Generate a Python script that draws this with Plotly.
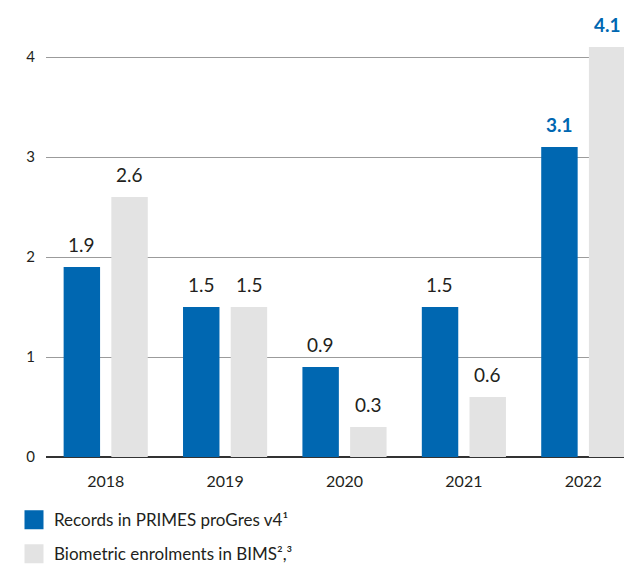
import plotly.graph_objects as go

years = ["2018", "2019", "2020", "2021", "2022"]
primes_records = [1.9, 1.5, 0.9, 1.5, 3.1]
bims_enrolments = [2.6, 1.5, 0.3, 0.6, 4.1]
series_names = ["Records in PRIMES proGres v4¹", "Biometric enrolments in BIMS²,³"]
y_ticks = [0, 1, 2, 3, 4]

BLUE = "#0067b1"
GREY = "#e3e3e3"
TEXT = "#231f20"
FONT = "Lato"

fig = go.Figure()
for vals, color in ((primes_records, BLUE), (bims_enrolments, GREY)):
    fig.add_trace(go.Bar(x=years, y=vals, marker=dict(color=color, line=dict(width=0)),
                         showlegend=False, hoverinfo="skip"))

# legend entries with larger square swatches
for i, (name, color) in enumerate(zip(series_names, (BLUE, GREY))):
    fig.add_trace(go.Scatter(x=[None], y=[None], mode="markers", name=name,
                             legendgroup=f"g{i}",
                             marker=dict(symbol="square", size=16, color=color,
                                         line=dict(color=color, width=3))))

# value labels above bars; the latest year is highlighted
last = len(years) - 1
for vals, shift in ((primes_records, -24), (bims_enrolments, 24)):
    for i, v in enumerate(vals):
        hi = i == last
        fig.add_annotation(x=i, y=v, text=f"<b>{v:.1f}</b>" if hi else f"{v:.1f}",
                           showarrow=False, xshift=shift, yanchor="bottom", yshift=9,
                           font=dict(family=FONT, size=19, color=BLUE if hi else TEXT))

fig.update_layout(
    width=624, height=565,
    margin=dict(l=45.5, r=0, t=37, b=108, autoexpand=False),
    paper_bgcolor="white", plot_bgcolor="white",
    barmode="group", bargap=0.201, bargroupgap=0.236,
    font=dict(family=FONT, color=TEXT),
    xaxis=dict(type="category", range=[-0.5, 4.341], showgrid=False, showline=False,
               ticks="", tickfont=dict(size=16, color=TEXT), ticklabelstandoff=13),
    yaxis=dict(range=[0, 4.2], tickvals=y_ticks, showgrid=True, gridcolor="#9b9b9b",
               gridwidth=1, zeroline=True, zerolinecolor="#333333", zerolinewidth=1.5,
               ticks="", tickfont=dict(size=15, color=TEXT), ticklabelstandoff=10),
    legend=dict(orientation="v", x=14 / 624, xref="container", y=-0.274, yref="paper",
                xanchor="left", yanchor="bottom", font=dict(size=17, color=TEXT),
                tracegroupgap=9, itemclick=False, itemdoubleclick=False),
)

fig.write_html("out.html")
